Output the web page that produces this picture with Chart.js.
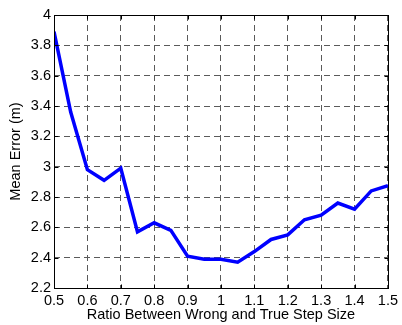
<!DOCTYPE html>
<html>
<head>
<meta charset="utf-8">
<script src="https://cdn.jsdelivr.net/npm/chart.js@4/dist/chart.umd.min.js"></script>
<style>
  html, body { margin: 0; padding: 0; background: #fff; }
  #wrap { width: 402px; height: 325px; position: relative; }
</style>
</head>
<body>
<div id="wrap"><canvas id="c"></canvas></div>
<script>
const ratios = [0.5, 0.55, 0.6, 0.65, 0.7, 0.75, 0.8, 0.85, 0.9, 0.95, 1.0,
	1.05, 1.1, 1.15, 1.2, 1.25, 1.3, 1.35, 1.4, 1.45, 1.5];
const meanError = [3.89, 3.36, 2.98, 2.91, 2.99, 2.57, 2.63, 2.58, 2.41, 2.39, 2.39,
	2.37, 2.44, 2.52, 2.55, 2.65, 2.68, 2.76, 2.72, 2.84, 2.875];
const xTicks = [0.5, 0.6, 0.7, 0.8, 0.9, 1, 1.1, 1.2, 1.3, 1.4, 1.5];
const yTicks = [2.2, 2.4, 2.6, 2.8, 3, 3.2, 3.4, 3.6, 3.8, 4];
const xTitle = "Ratio Between Wrong and True Step Size";
const yTitle = "Mean Error (m)";

const font = { family: "'Liberation Sans', Arial, Helvetica, sans-serif", size: 14.5 };

// MATLAB style closed box with small inward tick marks
const boxPlugin = {
	id: "box",
	afterDraw(chart) {
		const a = chart.chartArea, g = chart.ctx;
		const sx = chart.scales.x, sy = chart.scales.y;
		const L = Math.round(a.left) + 0.5, R = Math.round(a.right) + 0.5;
		const T = Math.round(a.top) + 0.5, B = Math.round(a.bottom) + 0.5;
		g.save();
		g.strokeStyle = "#000";
		g.lineWidth = 1;
		g.strokeRect(L, T, R - L, B - T);
		g.beginPath();
		xTicks.forEach(v => {
			const px = Math.round(sx.getPixelForValue(v)) + 0.5;
			g.moveTo(px, B); g.lineTo(px, B - 4);
			g.moveTo(px, T); g.lineTo(px, T + 4);
		});
		yTicks.forEach(v => {
			const py = Math.round(sy.getPixelForValue(v)) + 0.5;
			g.moveTo(L, py); g.lineTo(L + 4, py);
			g.moveTo(R, py); g.lineTo(R - 4, py);
		});
		g.stroke();
		g.restore();
	}
};

new Chart(document.getElementById("c"), {
	type: "line",
	data: {
		datasets: [{
			data: ratios.map((x, i) => ({ x: x, y: meanError[i] })),
			borderColor: "#0000ff",
			borderWidth: 3.5,
			pointRadius: 0,
			tension: 0,
			fill: false
		}]
	},
	options: {
		responsive: true,
		maintainAspectRatio: false,
		animation: false,
		layout: { padding: { left: 0, right: 12, top: 15, bottom: 0 } },
		plugins: { legend: { display: false }, tooltip: { enabled: false } },
		scales: {
			x: {
				type: "linear",
				min: 0.5, max: 1.5,
				afterFit(s) { s.height = 37; },
				afterBuildTicks(s) { s.ticks = xTicks.map(v => ({ value: v })); },
				grid: { color: "#5a5a5a", lineWidth: 1, tickLength: 0, drawTicks: false },
				border: { display: false, dash: [6, 4] },
				ticks: {
					color: "#000", font: font, padding: 4,
					maxRotation: 0, autoSkip: false,
					callback: v => String(v)
				},
				title: { display: true, text: xTitle, color: "#000", font: font, padding: { top: 0, bottom: 1 } }
			},
			y: {
				min: 2.2, max: 4,
				afterFit(s) { s.width = 54; },
				afterBuildTicks(s) { s.ticks = yTicks.map(v => ({ value: v })); },
				grid: { color: "#5a5a5a", lineWidth: 1, tickLength: 0, drawTicks: false },
				border: { display: false, dash: [6, 4] },
				ticks: {
					color: "#000", font: font, padding: 3, autoSkip: false,
					callback: v => String(v)
				},
				title: { display: true, text: yTitle, color: "#000", font: font, padding: { top: 7, bottom: 0 } }
			}
		}
	},
	plugins: [boxPlugin]
});
</script>
</body>
</html>
